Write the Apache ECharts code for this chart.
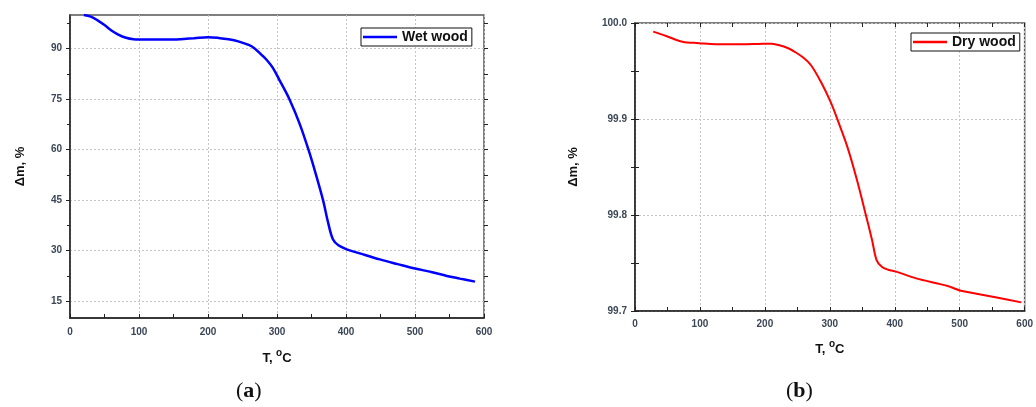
<!DOCTYPE html>
<html><head><meta charset="utf-8">
<script src="https://cdn.jsdelivr.net/npm/echarts@6/dist/echarts.min.js"></script>
<style>html,body{margin:0;padding:0;background:#fff}#c{width:1036px;height:407px}</style>
</head><body><div id="c"></div>
<script>
// ---- data ----
const wetT = [20, 30, 40, 50, 60, 70, 80, 92, 110, 130, 150, 165, 180, 200, 215, 230, 245, 259, 268, 279, 287, 294, 303, 318, 333, 347, 357, 367, 374, 381, 389, 401, 420, 449, 475, 500, 525, 546, 565, 587];
const wetM = [100.0, 99.5, 98.4, 97.0, 95.4, 94.2, 93.3, 92.8, 92.7, 92.7, 92.7, 92.9, 93.1, 93.4, 93.2, 92.8, 92.1, 91.1, 90.0, 87.9, 86.2, 84.3, 80.9, 75.0, 67.6, 59.1, 52.2, 44.8, 38.4, 33.4, 31.6, 30.4, 29.2, 27.4, 26.0, 24.7, 23.6, 22.5, 21.7, 20.8];
const dryT = [28, 48, 73, 99, 124, 165, 190, 210, 221, 235, 246, 259, 271, 286, 301, 312, 327, 342, 354, 365, 372, 380, 390, 402, 433, 470, 484, 490, 502, 530, 555, 595];
const dryM = [99.991, 99.9865, 99.9805, 99.979, 99.9778, 99.9778, 99.9782, 99.9785, 99.977, 99.974, 99.970, 99.964, 99.956, 99.939, 99.918, 99.899, 99.871, 99.836, 99.804, 99.774, 99.753, 99.746, 99.743, 99.741, 99.734, 99.728, 99.7255, 99.724, 99.721, 99.7175, 99.7143, 99.709];
const wetYLabels = [15, 30, 45, 60, 75, 90];
const wetYMinor = [22.5, 37.5, 52.5, 67.5, 82.5, 97.5];
const seriesNames = ['Wet wood', 'Dry wood'];
const captions = ['a', 'b'];

const chart = echarts.init(document.getElementById('c'));
const FONT = 'Liberation Sans, Arial, sans-serif';
const labelStyle = {fontSize: 10, fontWeight: 'bold', color: '#3b4656', fontFamily: FONT};
const gridLine = {show: true, lineStyle: {color: '#c4c4c4', type: [2, 2], width: 1}};
const axisLine = {show: true, lineStyle: {color: '#222', width: 1.5}};
const tk = {color: '#222'};
const xName = {
  name: '{n|T, }{s|o}{n|C}', nameLocation: 'middle',
  nameTextStyle: {rich: {
    n: {fontSize: 13, fontWeight: 'bold', fontFamily: FONT, color: '#111', verticalAlign: 'bottom'},
    s: {fontSize: 10, fontWeight: 'bold', fontFamily: FONT, color: '#111', verticalAlign: 'top', padding: [0, 0, 7, 0]}
  }}
};
const yName = {name: 'Δm, %', nameLocation: 'middle', nameRotate: 90,
  nameTextStyle: {fontSize: 13, fontWeight: 'bold', fontFamily: FONT, color: '#111'}};
const legendBase = {icon: 'rect', itemWidth: 34, itemHeight: 2.5, itemGap: 4,
  padding: [2, 4, 2, 2], borderColor: '#111', borderWidth: 1, backgroundColor: '#fff',
  textStyle: {fontSize: 14, fontWeight: 'bold', fontFamily: FONT, color: '#111'}};

const option = {
  animation: false,
  backgroundColor: '#fff',
  grid: [
    {left: 70, top: 15, width: 414, height: 303, show: true, borderColor: '#555', borderWidth: 1.5},
    {left: 635, top: 23, width: 395, height: 288, show: true, borderColor: '#555', borderWidth: 1.5}
  ],
  legend: [
    Object.assign({data: [seriesNames[0]], left: 361, top: 28}, legendBase),
    Object.assign({data: [seriesNames[1]], left: 911, top: 33}, legendBase)
  ],
  xAxis: [
    Object.assign({type: 'value', gridIndex: 0, min: 0, max: 600, interval: 100, position: 'bottom',
      axisLine: axisLine, axisTick: {show: true, inside: true, length: 4, lineStyle: tk},
      minorTick: {show: true, splitNumber: 2, length: 4, lineStyle: tk},
      splitLine: gridLine, axisLabel: Object.assign({margin: 9}, labelStyle), nameGap: 30}, xName),
    Object.assign({type: 'value', gridIndex: 1, min: 0, max: 600, interval: 100, position: 'bottom',
      axisLine: axisLine, axisTick: {show: true, inside: true, length: 4, lineStyle: tk},
      minorTick: {show: true, splitNumber: 2, length: 4, lineStyle: tk},
      splitLine: gridLine, axisLabel: Object.assign({margin: 8}, labelStyle), nameGap: 28}, xName),
    {type: 'value', gridIndex: 1, min: 0, max: 600, interval: 100, position: 'top',
      axisLine: {show: false}, axisLabel: {show: false}, splitLine: {show: false},
      axisTick: {show: true, inside: true, length: 4, lineStyle: tk},
      minorTick: {show: true, splitNumber: 2, length: 4, lineStyle: tk}}
  ],
  yAxis: [
    Object.assign({type: 'value', gridIndex: 0, min: 10, max: 100, position: 'left',
      axisLine: axisLine,
      axisTick: {show: true, inside: false, length: 4, customValues: wetYLabels, lineStyle: tk},
      axisLabel: Object.assign({margin: 8, customValues: wetYLabels}, labelStyle),
      splitLine: gridLine, nameGap: 43}, yName),
    {type: 'value', gridIndex: 0, min: 10, max: 100, position: 'left',
      axisLine: {show: false}, axisLabel: {show: false}, splitLine: {show: false},
      axisTick: {show: true, inside: false, length: 3, customValues: wetYMinor, lineStyle: tk}},
    {type: 'value', gridIndex: 0, min: 10, max: 100, position: 'right',
      axisLine: {show: false}, axisLabel: {show: false}, splitLine: {show: false},
      axisTick: {show: true, inside: false, length: 4, customValues: wetYLabels.concat(wetYMinor), lineStyle: tk}},
    Object.assign({type: 'value', gridIndex: 1, min: 99.7, max: 100.0, interval: 0.1, position: 'left',
      axisLine: axisLine,
      axisTick: {show: true, inside: true, length: 4, lineStyle: tk},
      minorTick: {show: true, splitNumber: 2, length: 4, lineStyle: tk},
      axisLabel: Object.assign({margin: 8, formatter: v => v.toFixed(1)}, labelStyle),
      splitLine: gridLine, nameGap: 55}, yName),
    {type: 'value', gridIndex: 1, min: 99.7, max: 100.0, interval: 0.1, position: 'right',
      axisLine: {show: false}, axisLabel: {show: false}, splitLine: {show: false},
      axisTick: {show: true, inside: true, length: 4, lineStyle: tk},
      minorTick: {show: true, splitNumber: 2, length: 4, lineStyle: tk}}
  ],
  series: [
    {name: seriesNames[0], type: 'line', xAxisIndex: 0, yAxisIndex: 0, symbol: 'none', smooth: 0.35,
     lineStyle: {color: '#0000ff', width: 2.5}, itemStyle: {color: '#0000ff'},
     data: wetT.map((t, i) => [t, wetM[i]])},
    {name: seriesNames[1], type: 'line', xAxisIndex: 1, yAxisIndex: 3, symbol: 'none', smooth: 0.35,
     lineStyle: {color: '#ff0000', width: 2}, itemStyle: {color: '#ff0000'},
     data: dryT.map((t, i) => [t, dryM[i]])}
  ],
  graphic: [
    {type: 'text', left: 236, top: 380, style: {
      text: '{p|(}{b|' + captions[0] + '}{p|)}',
      rich: {p: {fontSize: 22, fontFamily: 'Liberation Serif, DejaVu Serif, serif', fill: '#111'},
             b: {fontSize: 22, fontWeight: 'bold', fontFamily: 'Liberation Serif, DejaVu Serif, serif', fill: '#111'}}}},
    {type: 'text', left: 786, top: 380, style: {
      text: '{p|(}{b|' + captions[1] + '}{p|)}',
      rich: {p: {fontSize: 22, fontFamily: 'Liberation Serif, DejaVu Serif, serif', fill: '#111'},
             b: {fontSize: 22, fontWeight: 'bold', fontFamily: 'Liberation Serif, DejaVu Serif, serif', fill: '#111'}}}}
  ]
};
chart.setOption(option);
</script></body></html>
